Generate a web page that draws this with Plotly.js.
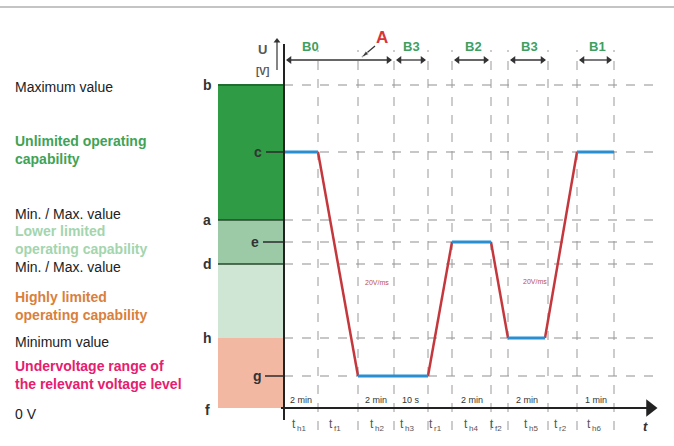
<!DOCTYPE html>
<html>
<head>
<meta charset="utf-8">
<script src="https://cdn.plot.ly/plotly-3.0.1.min.js"></script>
<style>html,body{margin:0;padding:0;background:#fff}#chart{width:674px;height:446px}</style>
</head>
<body>
<div id="chart"></div>
<script>
// ---- data ----
const levelNames  = ['f', 'g', 'h', 'd', 'e', 'a', 'c', 'b'];
const levelValues = [0, 3.2, 7.0, 14.4, 16.6, 18.8, 25.6, 32.3];

const gridTimes = [3.4, 7.4, 11.0, 14.4, 16.8, 20.7, 22.4, 26.4, 29.3, 33.0];

const curveT = [0, 3.4, 7.4, 14.4, 16.8, 20.7, 22.4, 26.1, 29.3, 33.0];
const curveU = [25.6, 25.6, 3.2, 3.2, 16.6, 16.6, 7.0, 7.0, 25.6, 25.6];

const tickPos  = [1.6, 5.3, 9.4, 12.4, 15.3, 18.8, 21.4, 24.8, 27.8, 31.1];
const tickMain = 't';
const tickSub  = ['h1', 'f1', 'h2', 'h3', 'r1', 'h4', 'f2', 'h5', 'r2', 'h6'];

const durText = ['2 min', '2 min', '10 s', '2 min', '2 min', '1 min'];
const durPos  = [1.7, 9.2, 12.7, 18.8, 24.3, 31.2];

const phaseNames    = ['B0', 'B3', 'B2', 'B3', 'B1'];
const phaseStart    = [0, 11.0, 16.8, 22.4, 29.3];
const phaseEnd      = [11.0, 14.4, 20.7, 26.4, 33.0];
const phaseLabelPos = [2.6, 12.7, 18.9, 24.5, 31.3];

const slopeText = ['20V/ms', '20V/ms'];
const slopePosT = [9.3, 25.1];
const slopePosU = [12.6, 12.7];

const sideLabels = ['Maximum value', 'Unlimited operating<br>capability', 'Min. / Max. value',
  'Lower limited<br>operating capability', 'Min. / Max. value', 'Highly limited<br>operating capability',
  'Minimum value', 'Undervoltage range of<br>the relevant voltage level', '0 V'];
const sideLabelU = [32.1, 25.85, 19.4, 16.85, 14.1, 10.2, 6.6, 3.35, -0.6];
const sideColors = ['#222', '#3ea357', '#222', '#a3d5ae', '#222', '#d9803c', '#222', '#e5206f', '#222'];
const sideBold   = [false, true, false, true, false, true, false, true, false];

// ---- build ----
const L = {}; levelNames.forEach((n, i) => L[n] = levelValues[i]);
const FONT = 'Liberation Sans, Arial, sans-serif';

// blue (holding) and red (ramp) segments
const bx = [], by = [], rx = [], ry = [];
for (let i = 0; i < curveT.length - 1; i++) {
  const tx = (curveU[i] === curveU[i + 1]) ? [bx, by] : [rx, ry];
  tx[0].push(curveT[i], curveT[i + 1], null);
  tx[1].push(curveU[i], curveU[i + 1], null);
}

const traces = [
  {x: rx, y: ry, mode: 'lines', line: {color: '#c4373c', width: 2.5}, hoverinfo: 'skip'},
  {x: bx, y: by, mode: 'lines', line: {color: '#2a8fd0', width: 3}, hoverinfo: 'skip'}
];

// phase double arrows (lines + triangle heads)
const px = [], py = [], hlx = [], hly = [], hrx = [], hry = [];
phaseNames.forEach((p, i) => {
  px.push(phaseStart[i] + 0.3, phaseEnd[i] - 0.3, null);
  py.push(34.8, 34.8, null);
  hlx.push(phaseStart[i] + 0.55); hly.push(34.8);
  hrx.push(phaseEnd[i] - 0.55); hry.push(34.8);
});
traces.push({x: px, y: py, mode: 'lines', line: {color: '#333', width: 1.3}, hoverinfo: 'skip'});
traces.push({x: hlx, y: hly, mode: 'markers', marker: {symbol: 'triangle-left', size: 7, color: '#333'}, hoverinfo: 'skip'});
traces.push({x: hrx, y: hry, mode: 'markers', marker: {symbol: 'triangle-right', size: 7, color: '#333'}, hoverinfo: 'skip'});
// x-axis arrow head
traces.push({x: [36.6], y: [0], mode: 'markers', marker: {symbol: 'triangle-right', size: 15, color: '#222'}, hoverinfo: 'skip'});
// small U arrow
traces.push({x: [-0.7, -0.7], y: [33.8, 36.6], mode: 'lines', line: {color: '#333', width: 1.2}, hoverinfo: 'skip'});
traces.push({x: [-0.7], y: [36.7], mode: 'markers', marker: {symbol: 'triangle-up', size: 6, color: '#333'}, hoverinfo: 'skip'});
// A pointer arrow
traces.push({x: [9.1, 7.8], y: [36.2, 35.1], mode: 'lines', line: {color: '#333', width: 1.2}, hoverinfo: 'skip'});
traces.push({x: [9.1, 7.75], y: [36.2, 35.05], mode: 'markers',
  marker: {symbol: 'arrow', angleref: 'previous', size: [0, 8], color: '#333'}, hoverinfo: 'skip'});

const shapes = [];
// top rule
shapes.push({type: 'line', xref: 'paper', yref: 'y', x0: 0, x1: 1, y0: 40.1, y1: 40.1, line: {color: '#c4c4c4', width: 2}});
// bands
const BX0 = -6.6;
shapes.push({type: 'rect', x0: BX0, x1: 0, y0: L.a, y1: L.b, fillcolor: '#2f9b45', line: {width: 0}, layer: 'below'});
shapes.push({type: 'rect', x0: BX0, x1: 0, y0: L.d, y1: L.a, fillcolor: '#9ccaa6', line: {width: 0}, layer: 'below'});
shapes.push({type: 'rect', x0: BX0, x1: 0, y0: L.h, y1: L.d, fillcolor: '#cfe6d5', line: {width: 0}, layer: 'below'});
shapes.push({type: 'rect', x0: BX0, x1: 0, y0: L.f, y1: L.h, fillcolor: '#f3b8a2', line: {width: 0}, layer: 'below'});
shapes.push({type: 'line', x0: BX0, x1: 0, y0: L.b, y1: L.b, line: {color: '#1f6e30', width: 2}});
shapes.push({type: 'line', x0: BX0, x1: 0, y0: L.a, y1: L.a, line: {color: '#27472b', width: 1.5}});
shapes.push({type: 'line', x0: BX0, x1: 0, y0: L.d, y1: L.d, line: {color: '#27472b', width: 1.5}});
// inner level ticks
[['c', -1.8], ['e', -2.1], ['g', -1.9]].forEach(([n, x0]) => {
  shapes.push({type: 'line', x0: x0, x1: 0, y0: L[n], y1: L[n], line: {color: '#2b2b2b', width: 1.5}});
});
// horizontal dashed grid
['b', 'c', 'a', 'e', 'd', 'h', 'g'].forEach(n => {
  shapes.push({type: 'line', x0: 0, x1: 36.9, y0: L[n], y1: L[n], line: {color: '#8f8f8f', width: 1, dash: 'dash'}, layer: 'below'});
});
// vertical dotted grid
gridTimes.forEach(t => {
  shapes.push({type: 'line', x0: t, x1: t, y0: -2.2, y1: 35.8, line: {color: '#999', width: 1, dash: 'dash'}, layer: 'below'});
});
// axis lines
shapes.push({type: 'line', x0: 0, x1: 0, y0: -1.2, y1: 36.4, line: {color: '#222', width: 2}});
shapes.push({type: 'line', x0: -0.3, x1: 36.3, y0: 0, y1: 0, line: {color: '#222', width: 2.2}});

const ann = [];
ann.push({x: -2.2, y: 35.9, text: '<b>U</b>', showarrow: false, font: {family: FONT, size: 13, color: '#555'}});
ann.push({x: -2.2, y: 33.7, text: '<b>[V]</b>', showarrow: false, font: {family: FONT, size: 10, color: '#555'}});
ann.push({x: 36.1, y: -1.8, text: '<i><b>t</b></i>', showarrow: false, font: {family: FONT, size: 13, color: '#333'}});

// level letters
[['b', -7.7], ['a', -7.7], ['d', -7.7], ['h', -7.7], ['f', -7.7], ['c', -2.6], ['e', -2.9], ['g', -2.7]].forEach(([n, x]) => {
  ann.push({x: x, y: L[n] + (n === 'f' ? -0.2 : 0), text: '<b>' + n + '</b>', showarrow: false,
    font: {family: FONT, size: 14, color: '#333'}});
});

// tick labels: 't' + subscript as two pieces
tickSub.forEach((s, i) => {
  ann.push({x: tickPos[i] - 0.3, y: -1.6, xanchor: 'right', borderpad: 0, text: tickMain, showarrow: false,
    font: {family: FONT, size: 12, color: '#555'}});
  ann.push({x: tickPos[i] - 0.4, y: -2.0, xanchor: 'left', borderpad: 0, text: s, showarrow: false,
    font: {family: FONT, size: 8, color: '#555'}});
});
// durations
durText.forEach((t, i) => ann.push({x: durPos[i], y: 0.8, text: t, showarrow: false,
  font: {family: FONT, size: 9, color: '#333'}}));
// phase labels
phaseNames.forEach((p, i) => {
  ann.push({x: phaseLabelPos[i], y: 36.2, text: '<b>' + p + '</b>', showarrow: false,
    font: {family: FONT, size: 13, color: '#3f9f5f'}});
});
ann.push({x: 9.8, y: 37.1, text: '<b>A</b>', showarrow: false, font: {family: FONT, size: 17, color: '#d8343a'}});
// slope labels
slopeText.forEach((t, i) => ann.push({x: slopePosT[i], y: slopePosU[i], text: t, showarrow: false,
  font: {family: FONT, size: 7, color: '#c0504d'}}));
// side labels
sideLabels.forEach((t, i) => ann.push({x: -27.1, y: sideLabelU[i], xanchor: 'left', align: 'left',
  text: sideBold[i] ? '<b>' + t + '</b>' : t, showarrow: false,
  font: {family: FONT, size: 14, color: sideColors[i]}}));

const layout = {
  width: 674, height: 446,
  margin: {l: 0, r: 0, t: 0, b: 0},
  paper_bgcolor: '#fff', plot_bgcolor: '#fff',
  showlegend: false,
  xaxis: {range: [-28.4, 39.0], visible: false, fixedrange: true},
  yaxis: {range: [-3.8, 40.8], visible: false, fixedrange: true},
  shapes: shapes,
  annotations: ann
};
Plotly.newPlot('chart', traces, layout, {staticPlot: true, displayModeBar: false});
</script>
</body>
</html>
